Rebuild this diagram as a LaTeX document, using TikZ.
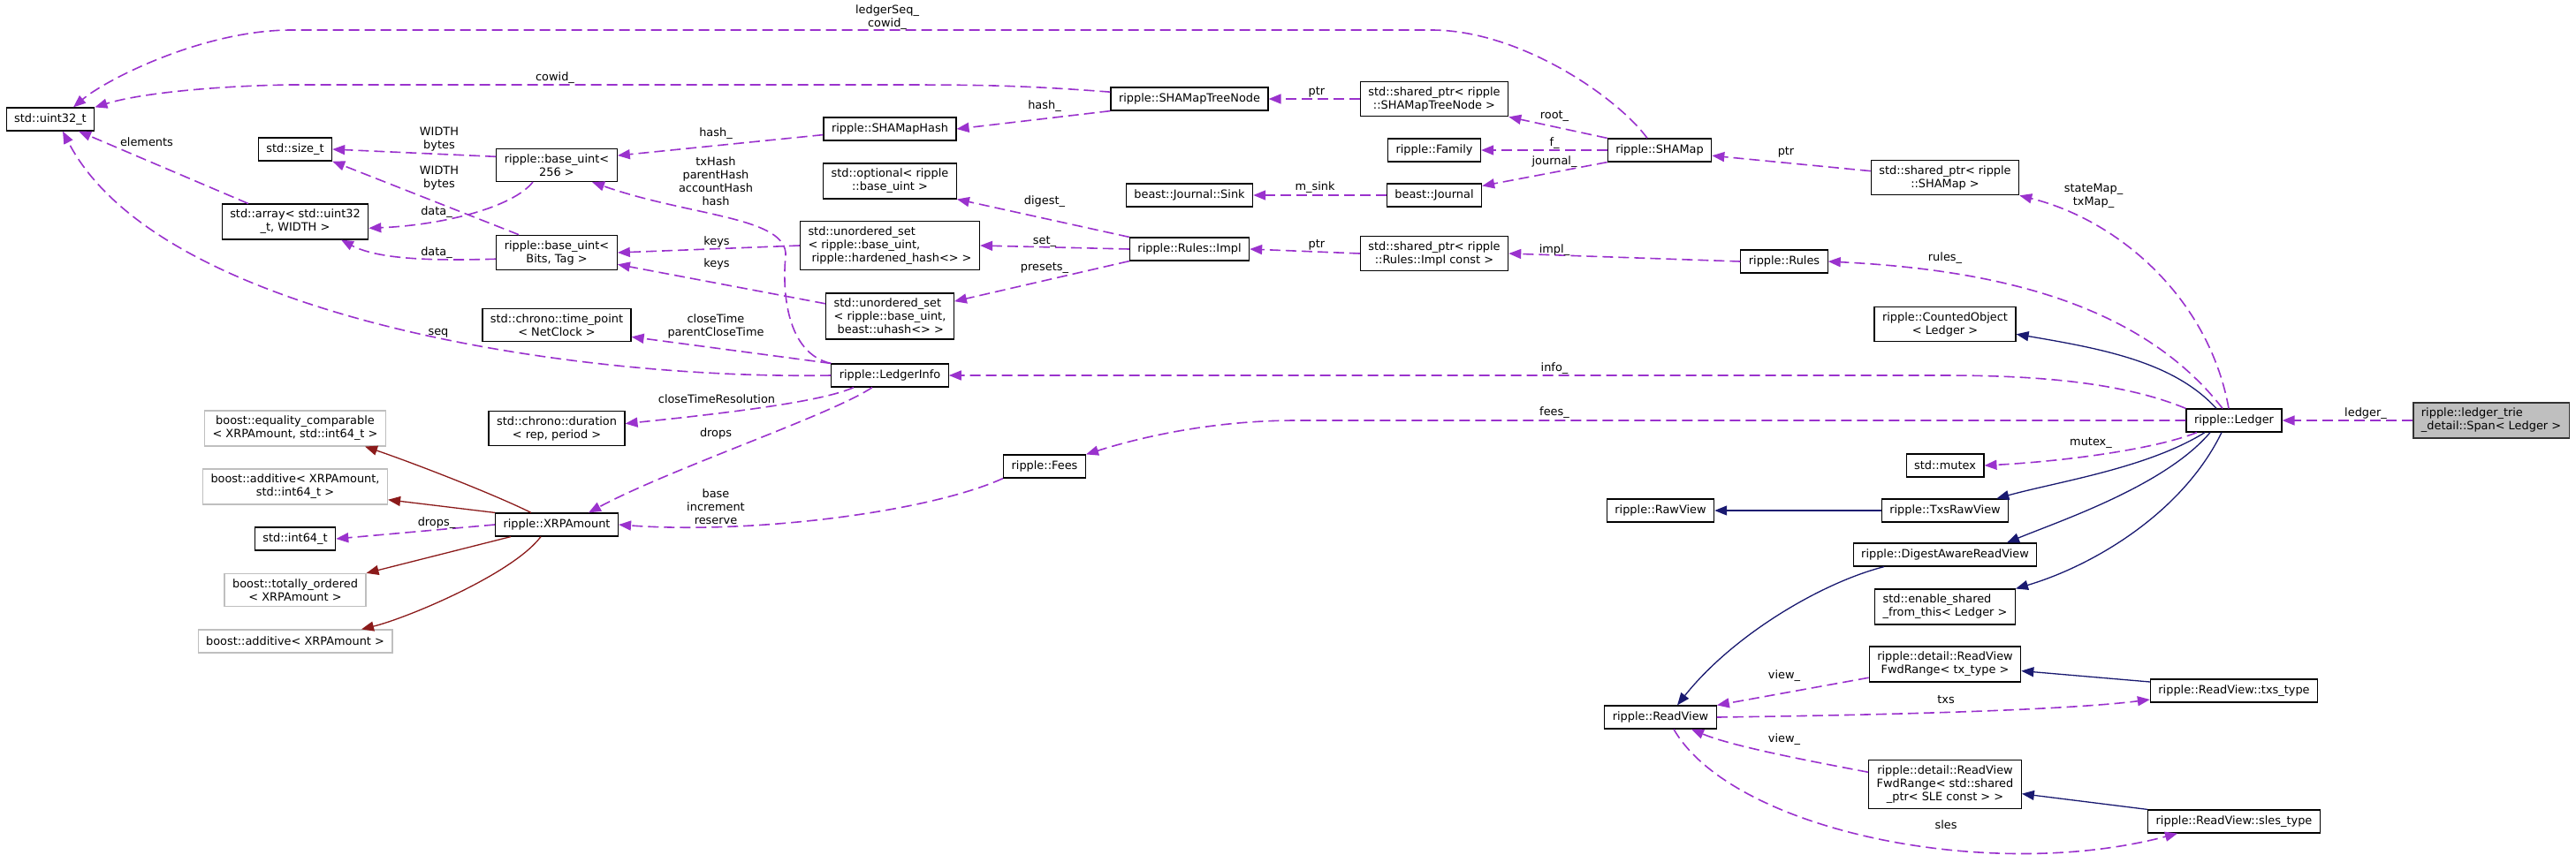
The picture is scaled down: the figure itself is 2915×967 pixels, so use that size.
\documentclass[tikz,border=0pt]{standalone}
\usepackage{fontspec}
\setmainfont{DejaVu Sans}
\usepackage{tikz}
\usetikzlibrary{arrows.meta, positioning}

\definecolor{memberc}{HTML}{9A32CD}
\definecolor{basec}{HTML}{191970}
\definecolor{privc}{HTML}{8B1A1A}
\definecolor{extc}{HTML}{BFBFBF}

\begin{document}
\begin{tikzpicture}[
  x=1pt, y=-1pt,
  font=\fontsize{12.9pt}{15pt}\selectfont,
  % Box styles
  cls/.style={draw, line width=1.2pt, fill=white, minimum height=26pt,
              inner xsep=9pt, inner ysep=6pt, align=center},
  extcls/.style={cls, draw=extc},
  focus/.style={cls, fill=extc, draw=black!80, align=left},
  lbl/.style={inner sep=0pt, align=center},
  % Edge styles
  member/.style={-{Triangle[length=14pt, width=11pt]}, memberc, line width=1.6pt,
                 dash pattern=on 12pt off 6pt},
  pubbase/.style={-{Triangle[length=14pt, width=11pt]}, basec, line width=1.3pt},
  privbase/.style={-{Triangle[length=14pt, width=11pt]}, privc, line width=1.3pt},
]
\useasboundingbox (0,0) rectangle (2915,967);

% ---- BASIC TYPES (left columns) ----
\node[cls] (uint32) at (57,135)  {std::uint32\_t};
\node[cls] (sizet)  at (334,169) {std::size\_t};
\node[cls] (array)  at (334,251) {std::array< std::uint32\\\_t, WIDTH >};
\node[extcls] (eqcomp)  at (334,485) {boost::equality\_comparable\\< XRPAmount, std::int64\_t >};
\node[extcls] (addpair) at (334,551) {boost::additive< XRPAmount,\\std::int64\_t >};
\node[cls]    (int64)   at (334,610) {std::int64\_t};
\node[extcls] (totord)  at (334,668) {boost::totally\_ordered\\< XRPAmount >};
\node[extcls] (addone)  at (334,726) {boost::additive< XRPAmount >};

% ---- BASE_UINT / CHRONO / XRPAMOUNT ----
\node[cls] (uint256)  at (630,187) {ripple::base\_uint<\\256 >};
\node[cls] (uintbits) at (630,286) {ripple::base\_uint<\\Bits, Tag >};
\node[cls] (timept)   at (630,368) {std::chrono::time\_point\\< NetClock >};
\node[cls] (duration) at (630,485) {std::chrono::duration\\< rep, period >};
\node[cls] (xrp)      at (630,594) {ripple::XRPAmount};

% ---- LEDGERINFO column ----
\node[cls] (shamaphash) at (1007,146) {ripple::SHAMapHash};
\node[cls] (optional)   at (1007,205) {std::optional< ripple\\::base\_uint >};
\node[cls, align=left] (usethard)  at (1007,278)
      {std::unordered\_set\\< ripple::base\_uint,\\\hspace*{4pt}ripple::hardened\_hash<> >};
\node[cls, align=left] (usetuhash) at (1007,358)
      {std::unordered\_set\\< ripple::base\_uint,\\\hspace*{4pt}beast::uhash<> >};
\node[cls] (ledgerinfo) at (1007,425) {ripple::LedgerInfo};
\node[cls] (fees)       at (1182,528) {ripple::Fees};

% ---- SHAMAP / RULES ----
\node[cls] (treenode)   at (1346,112) {ripple::SHAMapTreeNode};
\node[cls] (sink)       at (1346,221) {beast::Journal::Sink};
\node[cls] (rulesimpl)  at (1346,282) {ripple::Rules::Impl};
\node[cls] (sptreenode) at (1623,112) {std::shared\_ptr< ripple\\::SHAMapTreeNode >};
\node[cls] (family)     at (1623,170) {ripple::Family};
\node[cls] (journal)    at (1623,221) {beast::Journal};
\node[cls] (spimpl)     at (1623,287) {std::shared\_ptr< ripple\\::Rules::Impl const >};
\node[cls] (shamap)     at (1878,170) {ripple::SHAMap};
\node[cls] (rules)      at (2019,296) {ripple::Rules};

% ---- VIEWS ----
\node[cls] (rawview)  at (1879,578) {ripple::RawView};
\node[cls] (readview) at (1879,812) {ripple::ReadView};
\node[cls] (spshamap) at (2201,201) {std::shared\_ptr< ripple\\::SHAMap >};
\node[cls] (counted)  at (2201,367) {ripple::CountedObject\\< Ledger >};
\node[cls] (mutex)    at (2201,527) {std::mutex};
\node[cls] (txsraw)   at (2201,578) {ripple::TxsRawView};
\node[cls] (digest)   at (2201,628) {ripple::DigestAwareReadView};
\node[cls, align=left] (enableshared) at (2201,687) {std::enable\_shared\\\_from\_this< Ledger >};
\node[cls] (fwdtx)    at (2201,752) {ripple::detail::ReadView\\FwdRange< tx\_type >};
\node[cls] (fwdsle)   at (2201,888) {ripple::detail::ReadView\\FwdRange< std::shared\\\_ptr< SLE const > >};

% ---- LEDGER and SPAN ----
\node[cls]   (ledger)   at (2528,476) {ripple::Ledger};
\node[cls]   (txstype)  at (2528,782) {ripple::ReadView::txs\_type};
\node[cls]   (slestype) at (2528,930) {ripple::ReadView::sles\_type};
\node[focus] (span)     at (2819,476) {ripple::ledger\_trie\\\_detail::Span< Ledger >};

% ---- Span -> Ledger ----
\draw[member] (span.west) -- (ledger.east);
\node[lbl] (l-ledger) at (2677,468) {ledger\_};

% ---- Ledger members ----
\draw[member] ([xshift=-6pt]ledger.north) .. controls (2500,340) and (2400,250) .. (spshamap.south east);
\node[lbl] (l-statemap) at (2369,222) {stateMap\_\\txMap\_};
\draw[member] ([xshift=-13pt]ledger.north) .. controls (2420,340) and (2250,305) .. (rules.east);
\node[lbl] (l-rules) at (2201,292) {rules\_};
\draw[member] (ledger.north west) .. controls (2400,432) and (2300,425) .. (2200,425) -- (ledgerinfo.east);
\node[lbl] (l-info) at (1759,417) {info\_};
\draw[member] (ledger.west) -- (1467,476) .. controls (1380,476) and (1300,492) .. (fees.north east);
\node[lbl] (l-fees) at (1759,467) {fees\_};
\draw[member] ([xshift=-42pt]ledger.south) .. controls (2440,508) and (2340,522) .. (mutex.east);
\node[lbl] (l-mutex) at (2366,501) {mutex\_};

% ---- Ledger bases ----
\draw[pubbase] ([xshift=-20pt]ledger.north) .. controls (2460,410) and (2380,395) .. (counted.-8);
\draw[pubbase] ([xshift=-33pt]ledger.south) .. controls (2430,530) and (2330,545) .. ([xshift=-14pt]txsraw.north east);
\draw[pubbase] ([xshift=-27pt]ledger.south) .. controls (2450,550) and (2330,590) .. ([xshift=70pt]digest.north);
\draw[pubbase] ([xshift=-14pt]ledger.south) .. controls (2470,580) and (2370,640) .. (enableshared.north east);

% ---- Views ----
\draw[pubbase] (txsraw.west) -- (rawview.east);
\draw[pubbase] ([xshift=-69pt]digest.south) .. controls (2060,660) and (1960,720) .. ([xshift=19pt]readview.north);
\draw[member] (fwdtx.190) -- (readview.north east);
\node[lbl] (l-viewtx) at (2019,765) {view\_};
\draw[member] (readview.east) .. controls (2100,810) and (2330,805) .. (txstype.186);
\node[lbl] (l-txs) at (2202,792) {txs};
\draw[pubbase] (txstype.174) -- (fwdtx.-5);
\draw[member] (fwdsle.171) .. controls (2050,862) and (1960,845) .. ([xshift=35pt]readview.south);
\node[lbl] (l-viewsle) at (2019,837) {view\_};
\draw[pubbase] (slestype.north west) -- (fwdsle.-7);
\draw[member] ([xshift=15pt]readview.south) .. controls (1960,940) and (2250,1000) .. ([xshift=-64pt]slestype.south);
\node[lbl] (l-sles) at (2202,934) {sles};

% ---- SHAMap ----
\draw[member] (spshamap.175) -- (shamap.-6);
\node[lbl] (l-ptrmap) at (2021,172) {ptr};
\draw[member] (shamap.north west) -- (sptreenode.south east);
\node[lbl] (l-root) at (1759,131) {root\_};
\draw[member] (shamap.south west) -- (journal.11);
\node[lbl] (l-journal) at (1759,183) {journal\_};
\draw[member] ([xshift=-14pt]shamap.north) .. controls (1830,110) and (1720,34) .. (1620,34)
      -- (330,34) .. controls (230,34) and (120,90) .. ([xshift=26pt]uint32.north);
\node[lbl] (l-seqcow) at (1004,20) {ledgerSeq\_\\cowid\_};

% straight member links
\foreach \src/\dst in {shamap.west/family.east, journal.west/sink.east,
                       sptreenode.west/treenode.east, rules.west/spimpl.east,
                       spimpl.west/rulesimpl.east, rulesimpl.west/usethard.east,
                       usethard.west/uintbits.east}
  \draw[member] (\src) -- (\dst);
\node[lbl] (l-f)       at (1759,162) {f\_};
\node[lbl] (l-msink)   at (1488,212) {m\_sink};
\node[lbl] (l-ptrnode) at (1490,104) {ptr};
\node[lbl] (l-impl)    at (1759,283) {impl\_};
\node[lbl] (l-ptrimpl) at (1490,277) {ptr};
\node[lbl] (l-set)     at (1182,273) {set\_};
\node[lbl] (l-keys1)   at (811,274)  {keys};

\draw[member] (treenode.south west) -- (shamaphash.east);
\node[lbl] (l-hashnode) at (1182,120) {hash\_};
\draw[member] (treenode.175) .. controls (1150,96) and (1100,96) .. (1000,96)
      -- (330,96) .. controls (250,97) and (160,105) .. (uint32.north east);
\node[lbl] (l-cowid) at (628,88) {cowid\_};
\draw[member] (shamaphash.185) -- (uint256.9);
\node[lbl] (l-hash) at (810,151) {hash\_};

% ---- Rules::Impl ----
\draw[member] (rulesimpl.north west) -- (optional.south east);
\node[lbl] (l-digest) at (1182,228) {digest\_};
\draw[member] (rulesimpl.south west) -- (usetuhash.13);
\node[lbl] (l-presets) at (1182,303) {presets\_};
\draw[member] (usetuhash.169) -- (uintbits.-11);
\node[lbl] (l-keys2) at (811,299) {keys};

% ---- base_uint ----
\draw[member] (uint256.172) -- (sizet.east);
\node[lbl] (l-width1) at (497,158) {WIDTH\\bytes};
\draw[member] ([xshift=-27pt]uint256.south) .. controls (580,235) and (500,255) .. (array.-5);
\node[lbl] (l-data1) at (494,240) {data\_};
\draw[member] ([xshift=-43pt]uintbits.north) -- (sizet.south east);
\node[lbl] (l-width2) at (497,202) {WIDTH\\bytes};
\draw[member] (uintbits.186) .. controls (500,295) and (430,295) .. ([xshift=52pt]array.south);
\node[lbl] (l-data2) at (494,286) {data\_};
\draw[member] ([xshift=-53pt]array.north) -- ([xshift=32pt]uint32.south);
\node[lbl] (l-elements) at (166,161) {elements};

% ---- LedgerInfo ----
\draw[member] (ledgerinfo.west) .. controls (650,430) and (180,360) .. ([xshift=14pt]uint32.south);
\node[lbl] (l-seq) at (496,377) {seq};
\draw[member] (ledgerinfo.north west) .. controls (890,400) and (885,330) .. (889,290)
      .. controls (892,245) and (780,245) .. ([xshift=40pt]uint256.south);
\node[lbl] (l-hashes) at (810,205) {txHash\\parentHash\\accountHash\\hash};
\draw[member] (ledgerinfo.north west) -- (timept.-9);
\node[lbl] (l-close) at (810,369) {closeTime\\parentCloseTime};
\draw[member] ([xshift=-41pt]ledgerinfo.south) .. controls (930,455) and (820,468) .. (duration.4);
\node[lbl] (l-res) at (811,452) {closeTimeResolution};
\draw[member] ([xshift=-20pt]ledgerinfo.south) .. controls (940,470) and (760,530) .. ([xshift=36pt]xrp.north);
\node[lbl] (l-drops) at (810,491) {drops};
\draw[member] (fees.south west) .. controls (1050,580) and (850,605) .. (xrp.east);
\node[lbl] (l-amounts) at (810,574) {base\\increment\\reserve};

% ---- XRPAmount ----
\draw[member] (xrp.west) -- (int64.east);
\node[lbl] (l-dropsm) at (494,592) {drops\_};
\draw[privbase] ([xshift=-29pt]xrp.north) .. controls (560,560) and (470,525) .. ([xshift=79pt]eqcomp.south);
\draw[privbase] (xrp.north west) -- (addpair.-8);
\draw[privbase] ([xshift=-52pt]xrp.south) -- (totord.north east);
\draw[privbase] ([xshift=-18pt]xrp.south) .. controls (580,650) and (460,700) .. ([xshift=75pt]addone.north);

\end{tikzpicture}
\end{document}
